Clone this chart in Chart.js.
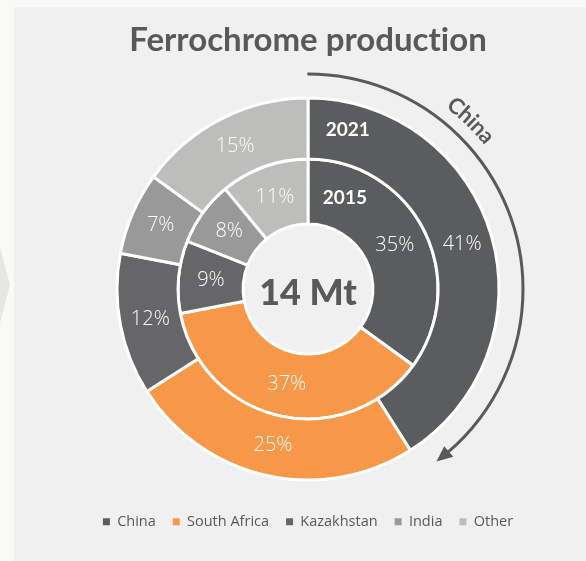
<!DOCTYPE html>
<html>
<head>
<meta charset="utf-8">
<script src="https://cdn.jsdelivr.net/npm/chart.js@4.4.1/dist/chart.umd.min.js"></script>
<style>
  body { margin: 0; width: 586px; height: 561px; overflow: hidden; position: relative; background: #f9f9f7; }
  #panel { position: absolute; left: 14px; top: 7px; right: 0; bottom: 0; background: #f0f0f0; }
  #chevron { position: absolute; left: 0; top: 247px; width: 10px; height: 76px; background: #e6e6e3;
             clip-path: polygon(0 0, 100% 50%, 0 100%); }
  #ferroChart { position: absolute; left: 0; top: 0; }
</style>
</head>
<body>
<div id="panel"></div>
<div id="chevron"></div>
<canvas id="ferroChart" width="586" height="561"></canvas>
<script>
// shares of world ferrochrome output, %
var countries = ['China', 'South Africa', 'Kazakhstan', 'India', 'Other'];
var share2021 = [41, 25, 12, 7, 15];
var share2015 = [35, 37, 9, 8, 11];
var ringYears = ['2021', '2015'];
var totalLabel = '14 Mt';
var colors = ['#5b5c5e', '#f79848', '#666668', '#989998', '#bdbdbb'];

var textGrey = '#595959';

// no "ti" ligature in the title
var noLigatures = {
  id: 'noLigatures',
  beforeDraw: function(chart) {
    chart.ctx.textRendering = 'optimizeSpeed';
  }
};

// percentages on each slice + year tags
var sliceLabels = {
  id: 'sliceLabels',
  afterDatasetsDraw: function(chart) {
    var ctx = chart.ctx;
    ctx.save();
    ctx.textAlign = 'center';
    ctx.textBaseline = 'middle';
    chart.data.datasets.forEach(function(ds, d) {
      var meta = chart.getDatasetMeta(d);
      ctx.font = '300 20px "Open Sans"';
      ctx.fillStyle = '#fcfcfc';
      meta.data.forEach(function(arc, i) {
        var p = arc.getCenterPoint();
        ctx.fillText(ds.data[i] + '%', p.x, p.y);
      });
      // year tag inside the China slice
      var a = meta.data[0];
      var mid = (a.innerRadius + a.outerRadius) / 2 + (d == 0 ? 4 : 1);
      var ang = (d == 0 ? 14 : 22) * Math.PI / 180;
      ctx.font = 'bold 19px Lato';
      ctx.fillStyle = '#ffffff';
      ctx.fillText(ringYears[d], a.x + mid * Math.sin(ang), a.y - mid * Math.cos(ang));
    });
    // total in the hole
    var c = chart.getDatasetMeta(0).data[0];
    ctx.font = '900 36px Lato';
    ctx.fillStyle = textGrey;
    ctx.fillText(totalLabel, c.x, c.y + 4);
    ctx.restore();
  }
};

// curved arrow round the China share
var chinaArrow = {
  id: 'chinaArrow',
  afterDraw: function(chart) {
    var ctx = chart.ctx;
    var c = chart.getDatasetMeta(0).data[0];
    var r = 215;
    var tip = 53.3 * Math.PI / 180;
    var base = tip - 4.2 * Math.PI / 180;
    ctx.save();
    ctx.strokeStyle = textGrey;
    ctx.fillStyle = textGrey;
    ctx.lineWidth = 3;
    ctx.beginPath();
    ctx.arc(c.x, c.y, r, -Math.PI / 2 - 0.003, base + 0.01);
    ctx.stroke();
    ctx.beginPath();
    ctx.moveTo(c.x + r * Math.cos(tip), c.y + r * Math.sin(tip));
    ctx.lineTo(c.x + (r + 7) * Math.cos(base), c.y + (r + 7) * Math.sin(base));
    ctx.lineTo(c.x + (r - 7) * Math.cos(base), c.y + (r - 7) * Math.sin(base));
    ctx.closePath();
    ctx.fill();

    // "China" along the arc
    var word = countries[0];
    var tr = 235;
    ctx.font = 'bold 22px Lato';
    ctx.textAlign = 'center';
    ctx.textBaseline = 'middle';
    var w = ctx.measureText(word).width;
    var a = 44 * Math.PI / 180 - (w / tr) / 2;
    for (var k = 0; k < word.length; k++) {
      var cw = ctx.measureText(word[k]).width;
      var ca = a + (cw / 2) / tr;
      ctx.save();
      ctx.translate(c.x + tr * Math.sin(ca), c.y - tr * Math.cos(ca));
      ctx.rotate(ca);
      ctx.fillText(word[k], 0, 0);
      ctx.restore();
      a += cw / tr;
    }
    ctx.restore();
  }
};

function createFerroChart()
{
  var ctx = document.getElementById('ferroChart').getContext('2d');
  var legendLabels = Chart.overrides.doughnut.plugins.legend.labels.generateLabels;

  new Chart(ctx, {
    type: 'doughnut',
    data: {
      labels: countries,
      datasets: [
        { label: ringYears[0], data: share2021, backgroundColor: colors, borderColor: '#ffffff', borderWidth: 3, weight: 61 },
        { label: ringYears[1], data: share2015, backgroundColor: colors, borderColor: '#ffffff', borderWidth: 3, weight: 65 }
      ]
    },
    options: {
      responsive: false,
      animation: false,
      events: [],
      devicePixelRatio: 1,
      radius: 191,
      cutout: '34%',
      layout: { padding: { left: 30, right: 0, top: 0, bottom: 22 } },
      plugins: {
        tooltip: { enabled: false },
        title: {
          display: true,
          text: 'Ferrochrome production',
          color: textGrey,
          font: { family: 'Lato', size: 33, weight: 'bold' },
          padding: { top: 21, bottom: 20 }
        },
        legend: {
          position: 'bottom',
          labels: {
            color: textGrey,
            font: { family: 'Open Sans', size: 14.5 },
            boxWidth: 7,
            boxHeight: 7,
            padding: 17,
            generateLabels: function(chart) {
              return legendLabels(chart).map(function(item) {
                item.lineWidth = 0;
                return item;
              });
            }
          }
        }
      }
    },
    plugins: [noLigatures, sliceLabels, chinaArrow]
  });
}

createFerroChart();
</script>
</body>
</html>
